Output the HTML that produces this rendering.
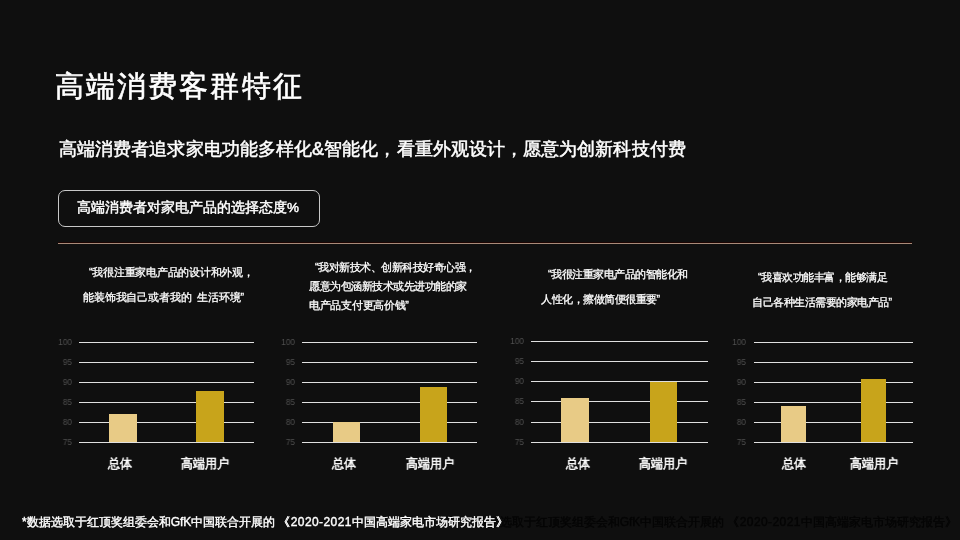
<!DOCTYPE html>
<html><head><meta charset="utf-8">
<style>
*{margin:0;padding:0;box-sizing:border-box}
html,body{width:960px;height:540px;overflow:hidden;background:#0f0f0f}
body{position:relative;font-family:"Liberation Sans",sans-serif;color:#fff}
.a{position:absolute;white-space:nowrap;will-change:transform}
.g{height:1px;background:#e0e0e0}
.yl{font-size:9px;color:#505050;text-align:right;width:30px;line-height:10px;transform:scaleX(0.92);transform-origin:100% 50%}
.b1{background:#e8cb86}
.b2{background:#c8a41b}
</style></head><body>
<div class="a" style="left:55px;top:65.5px;font-size:29px;line-height:40px;letter-spacing:2.1px;-webkit-text-stroke:0.6px #fff;color:#fff;">高端消费客群特征</div>
<div class="a" style="left:58.5px;top:137px;font-size:18px;line-height:24px;letter-spacing:0.08px;-webkit-text-stroke:0.5px #fff;color:#fff;">高端消费者追求家电功能多样化&amp;智能化，看重外观设计，愿意为创新科技付费</div>
<div class="a" style="left:58px;top:190px;width:262px;height:37px;border:1px solid #c8c8c8;border-radius:7px"></div>
<div class="a" style="left:77px;top:197.5px;font-size:13.5px;line-height:20px;letter-spacing:0px;-webkit-text-stroke:0.45px #fff;color:#fff;">高端消费者对家电产品的选择态度%</div>
<div class="a" style="left:58px;top:242px;width:854px;height:1px;background:#1c0402"></div>
<div class="a" style="left:58px;top:243px;width:854px;height:1px;background:#a88a78"></div>
<div class="a yl" style="left:42px;top:337px">100</div>
<div class="a yl" style="left:42px;top:357px">95</div>
<div class="a yl" style="left:42px;top:377px">90</div>
<div class="a yl" style="left:42px;top:397px">85</div>
<div class="a yl" style="left:42px;top:417px">80</div>
<div class="a yl" style="left:42px;top:437px">75</div>
<div class="a g" style="left:79px;top:342px;width:175px"></div>
<div class="a g" style="left:79px;top:362px;width:175px"></div>
<div class="a g" style="left:79px;top:382px;width:175px"></div>
<div class="a g" style="left:79px;top:402px;width:175px"></div>
<div class="a g" style="left:79px;top:422px;width:175px"></div>
<div class="a b1" style="left:109px;top:414px;width:28px;height:28px"></div>
<div class="a b2" style="left:196px;top:391px;width:28px;height:51px"></div>
<div class="a g" style="left:79px;top:442px;width:175px"></div>
<div class="a" style="left:80px;width:80px;text-align:center;top:456px;font-size:12.5px;line-height:16px;-webkit-text-stroke:0.5px #fff;transform:scaleX(0.93)">总体</div>
<div class="a" style="left:154.6px;width:100px;text-align:center;top:456px;font-size:12.5px;line-height:16px;-webkit-text-stroke:0.5px #fff;transform:scaleX(0.93)">高端用户</div>
<div class="a yl" style="left:265px;top:337px">100</div>
<div class="a yl" style="left:265px;top:357px">95</div>
<div class="a yl" style="left:265px;top:377px">90</div>
<div class="a yl" style="left:265px;top:397px">85</div>
<div class="a yl" style="left:265px;top:417px">80</div>
<div class="a yl" style="left:265px;top:437px">75</div>
<div class="a g" style="left:302px;top:342px;width:175px"></div>
<div class="a g" style="left:302px;top:362px;width:175px"></div>
<div class="a g" style="left:302px;top:382px;width:175px"></div>
<div class="a g" style="left:302px;top:402px;width:175px"></div>
<div class="a g" style="left:302px;top:422px;width:175px"></div>
<div class="a b1" style="left:333.4px;top:422px;width:26.6px;height:20px"></div>
<div class="a b2" style="left:420px;top:387px;width:27px;height:55px"></div>
<div class="a g" style="left:302px;top:442px;width:175px"></div>
<div class="a" style="left:303.9px;width:80px;text-align:center;top:456px;font-size:12.5px;line-height:16px;-webkit-text-stroke:0.5px #fff;transform:scaleX(0.93)">总体</div>
<div class="a" style="left:380px;width:100px;text-align:center;top:456px;font-size:12.5px;line-height:16px;-webkit-text-stroke:0.5px #fff;transform:scaleX(0.93)">高端用户</div>
<div class="a yl" style="left:494px;top:336px">100</div>
<div class="a yl" style="left:494px;top:356px">95</div>
<div class="a yl" style="left:494px;top:376px">90</div>
<div class="a yl" style="left:494px;top:396px">85</div>
<div class="a yl" style="left:494px;top:417px">80</div>
<div class="a yl" style="left:494px;top:437px">75</div>
<div class="a g" style="left:531px;top:341px;width:177px"></div>
<div class="a g" style="left:531px;top:361px;width:177px"></div>
<div class="a g" style="left:531px;top:381px;width:177px"></div>
<div class="a g" style="left:531px;top:401px;width:177px"></div>
<div class="a g" style="left:531px;top:422px;width:177px"></div>
<div class="a b1" style="left:561px;top:398px;width:28px;height:44px"></div>
<div class="a b2" style="left:650px;top:381.5px;width:27px;height:60.5px"></div>
<div class="a g" style="left:531px;top:442px;width:177px"></div>
<div class="a" style="left:537.8px;width:80px;text-align:center;top:456px;font-size:12.5px;line-height:16px;-webkit-text-stroke:0.5px #fff;transform:scaleX(0.93)">总体</div>
<div class="a" style="left:612.5px;width:100px;text-align:center;top:456px;font-size:12.5px;line-height:16px;-webkit-text-stroke:0.5px #fff;transform:scaleX(0.93)">高端用户</div>
<div class="a yl" style="left:716px;top:337px">100</div>
<div class="a yl" style="left:716px;top:357px">95</div>
<div class="a yl" style="left:716px;top:377px">90</div>
<div class="a yl" style="left:716px;top:397px">85</div>
<div class="a yl" style="left:716px;top:417px">80</div>
<div class="a yl" style="left:716px;top:437px">75</div>
<div class="a g" style="left:754px;top:342px;width:159px"></div>
<div class="a g" style="left:754px;top:362px;width:159px"></div>
<div class="a g" style="left:754px;top:382px;width:159px"></div>
<div class="a g" style="left:754px;top:402px;width:159px"></div>
<div class="a g" style="left:754px;top:422px;width:159px"></div>
<div class="a b1" style="left:781px;top:406px;width:25px;height:36px"></div>
<div class="a b2" style="left:861px;top:379px;width:25px;height:63px"></div>
<div class="a g" style="left:754px;top:442px;width:159px"></div>
<div class="a" style="left:753.9px;width:80px;text-align:center;top:456px;font-size:12.5px;line-height:16px;-webkit-text-stroke:0.5px #fff;transform:scaleX(0.93)">总体</div>
<div class="a" style="left:824.2px;width:100px;text-align:center;top:456px;font-size:12.5px;line-height:16px;-webkit-text-stroke:0.5px #fff;transform:scaleX(0.93)">高端用户</div>
<div class="a" style="left:88.7px;top:265.3px;font-size:10.67px;line-height:14px;letter-spacing:-0.25px;-webkit-text-stroke:0.3px #fff;color:#fff;">“我很注重家电产品的设计和外观，</div>
<div class="a" style="left:82.5px;top:290px;font-size:10.67px;line-height:14px;letter-spacing:-0.15px;-webkit-text-stroke:0.3px #fff;color:#fff;">能装饰我自己或者我的&nbsp; 生活环境”</div>
<div class="a" style="left:315px;top:259.5px;font-size:10.67px;line-height:14px;letter-spacing:-0.5px;-webkit-text-stroke:0.3px #fff;color:#fff;">“我对新技术、创新科技好奇心强，</div>
<div class="a" style="left:308.5px;top:278.5px;font-size:10.67px;line-height:14px;letter-spacing:-0.5px;-webkit-text-stroke:0.3px #fff;color:#fff;">愿意为包涵新技术或先进功能的家</div>
<div class="a" style="left:308.5px;top:297.5px;font-size:10.67px;line-height:14px;letter-spacing:-0.3px;-webkit-text-stroke:0.3px #fff;color:#fff;">电产品支付更高价钱”</div>
<div class="a" style="left:548px;top:267px;font-size:10.67px;line-height:14px;letter-spacing:-0.5px;-webkit-text-stroke:0.3px #fff;color:#fff;">“我很注重家电产品的智能化和</div>
<div class="a" style="left:541px;top:291.7px;font-size:10.67px;line-height:14px;letter-spacing:-0.5px;-webkit-text-stroke:0.3px #fff;color:#fff;">人性化，擦做简便很重要”</div>
<div class="a" style="left:757.5px;top:270px;font-size:10.67px;line-height:14px;letter-spacing:-0.5px;-webkit-text-stroke:0.3px #fff;color:#fff;">“我喜欢功能丰富，能够满足</div>
<div class="a" style="left:751.5px;top:295px;font-size:10.67px;line-height:14px;letter-spacing:-0.5px;-webkit-text-stroke:0.3px #fff;color:#fff;">自己各种生活需要的家电产品”</div>
<div class="a" style="left:471px;top:514px;font-size:12px;line-height:16px;letter-spacing:0px;-webkit-text-stroke:0.4px #050505;color:#050505;">*数据选取于红顶奖组委会和GfK中国联合开展的 <span style="margin-left:-1px">《</span><span style="letter-spacing:0.42px;margin-left:1px">2020-2021</span>中国高端家电市场研究报告》</div>
<div class="a" style="left:22px;top:514px;font-size:12px;line-height:16px;letter-spacing:0px;-webkit-text-stroke:0.4px #fff;color:#fff;">*数据选取于红顶奖组委会和GfK中国联合开展的 <span style="margin-left:-1px">《</span><span style="letter-spacing:0.42px;margin-left:1px">2020-2021</span>中国高端家电市场研究报告》</div>
</body></html>
